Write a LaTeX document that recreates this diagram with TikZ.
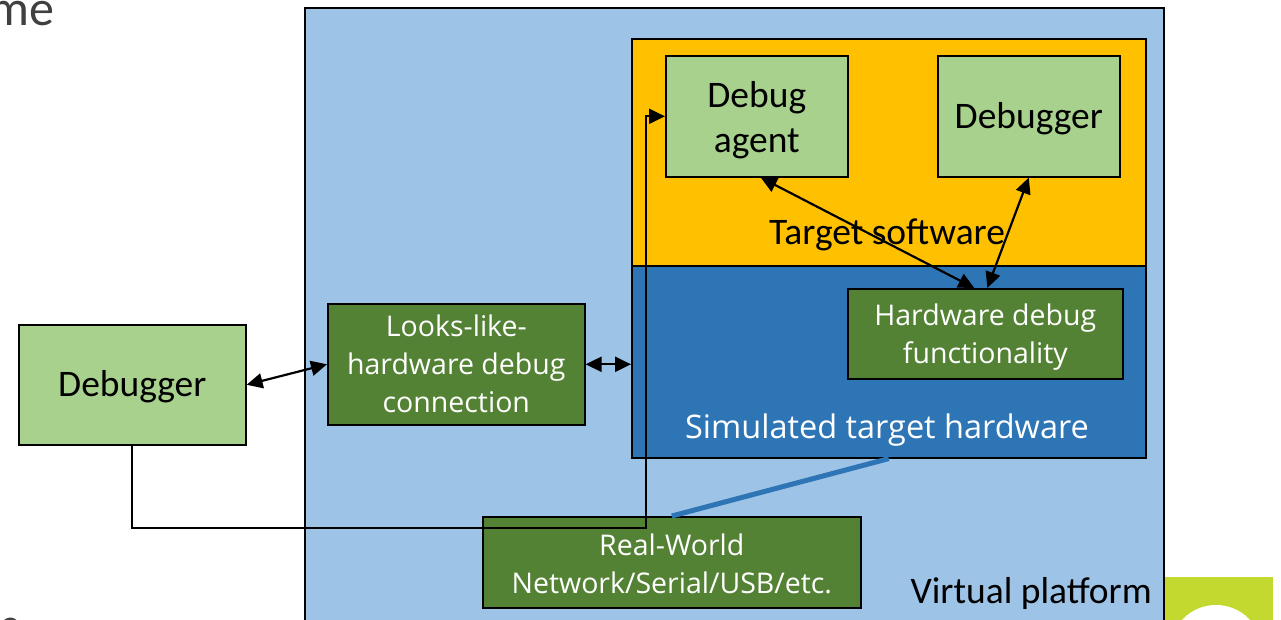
\documentclass[tikz,border=0pt]{standalone}
\usepackage{fontspec}
\setmainfont{Carlito}
\newfontfamily\osans{Open Sans}
\usetikzlibrary{arrows.meta}
\definecolor{vpblue}{HTML}{9DC3E6}
\definecolor{sworange}{HTML}{FFC000}
\definecolor{hwblue}{HTML}{2E75B6}
\definecolor{lgreen}{HTML}{A9D18E}
\definecolor{dgreen}{HTML}{548235}
\definecolor{limegreen}{HTML}{C4D92F}
\definecolor{slidegray}{HTML}{404040}
\tikzset{
  box/.style={draw=black, line width=1.6pt, inner sep=0pt, align=center},
  lbox/.style={box, fill=lgreen},
  dbox/.style={box, fill=dgreen},
  btxt/.style={inner sep=0pt, align=center, font=\fontsize{37.5}{45}\selectfont},
  wtxt/.style={inner sep=0pt, align=center, text=white, font=\osans\fontsize{28.5}{38}\selectfont},
  conn/.style={line width=2.2pt, {Triangle[length=16pt,width=15pt]}-{Triangle[length=16pt,width=15pt]}},
  link/.style={line width=2.2pt, -{Triangle[length=16pt,width=15pt]}},
}
\begin{document}
\begin{tikzpicture}[x=1pt,y=-1pt]
\useasboundingbox (0,0) rectangle (1281,620);
\clip (0,0) rectangle (1281,620);

% slide fragments
\node[inner sep=0pt, anchor=base east, text=slidegray, font=\fontsize{50}{54}\selectfont] (me) at (55,26) {me};
\node[inner sep=0pt, anchor=base west, text=slidegray, font=\fontsize{40}{44}\selectfont] (frag) at (0,637) {e};
\node[draw=none, fill=limegreen, minimum width=110pt, minimum height=70pt, anchor=north west, inner sep=0pt] (logo) at (1163,577) {};
\fill[white] (1216,651) circle[radius=46pt];

% virtual platform
\node[box, fill=vpblue, minimum width=859pt, minimum height=660pt, anchor=north west] (vp) at (304,7) {};
% target software / hardware
\node[box, fill=sworange, minimum width=514pt, minimum height=227pt, anchor=north west] (sw) at (631,38) {};
\node[box, fill=hwblue, minimum width=514pt, minimum height=192pt, anchor=north west] (simhw) at (631,265) {};

\node[lbox, minimum width=182pt, minimum height=121pt, anchor=north west] (agent) at (665,55) {};
\node[btxt] (agenttxt) at ([yshift=-4pt]agent.center) {Debug\\agent};
\node[lbox, minimum width=182pt, minimum height=121pt, anchor=north west] (dbgr) at (937,55) {};
\node[btxt] (dbgrtxt) at ([yshift=-2pt]dbgr.center) {Debugger};
\node[dbox, minimum width=275pt, minimum height=90pt, anchor=north west] (hdf) at (847,288) {};
\node[wtxt] (hdftxt) at ([yshift=-3pt]hdf.center) {Hardware debug\\functionality};
\node[dbox, minimum width=257pt, minimum height=121pt, anchor=north west] (looks) at (327,303) {};
\node[wtxt] (lookstxt) at (looks.center) {Looks-like-\\hardware debug\\connection};
\node[lbox, minimum width=227pt, minimum height=120pt, anchor=north west] (dbgl) at (18,324) {};
\node[btxt] (dbgltxt) at ([yshift=-2pt]dbgl.center) {Debugger};
\node[dbox, minimum width=378pt, minimum height=91pt, anchor=north west] (rw) at (482,516) {};
\node[wtxt] (rwtxt) at ([yshift=-2pt]rw.center) {Real-World\\Network/Serial/USB/etc.};

\node[btxt] (tswlabel) at (887,235) {Target software};
\node[inner sep=0pt, text=white, font=\osans\fontsize{32.5}{38}\selectfont] (hwlabel) at (887,430) {Simulated target hardware};
\node[btxt, anchor=base east] (vplabel) at (1152,603) {Virtual platform};

% connectors
\draw[conn] (dbgl.east) -- (looks.west);
\draw[conn] (looks.east) -- (looks.east -| simhw.west);
\draw[conn] ([xshift=4pt]agent.south) -- ([xshift=-11pt]hdf.north);
\draw[conn] (dbgr.south) -- ([xshift=2pt]hdf.north);
\coordinate (turn) at (646,528);
\draw[link] (dbgl.south) |- (turn) |- (agent.west);
\draw[hwblue, line width=5pt] (rw.north) -- (simhw.south);
\end{tikzpicture}
\end{document}
